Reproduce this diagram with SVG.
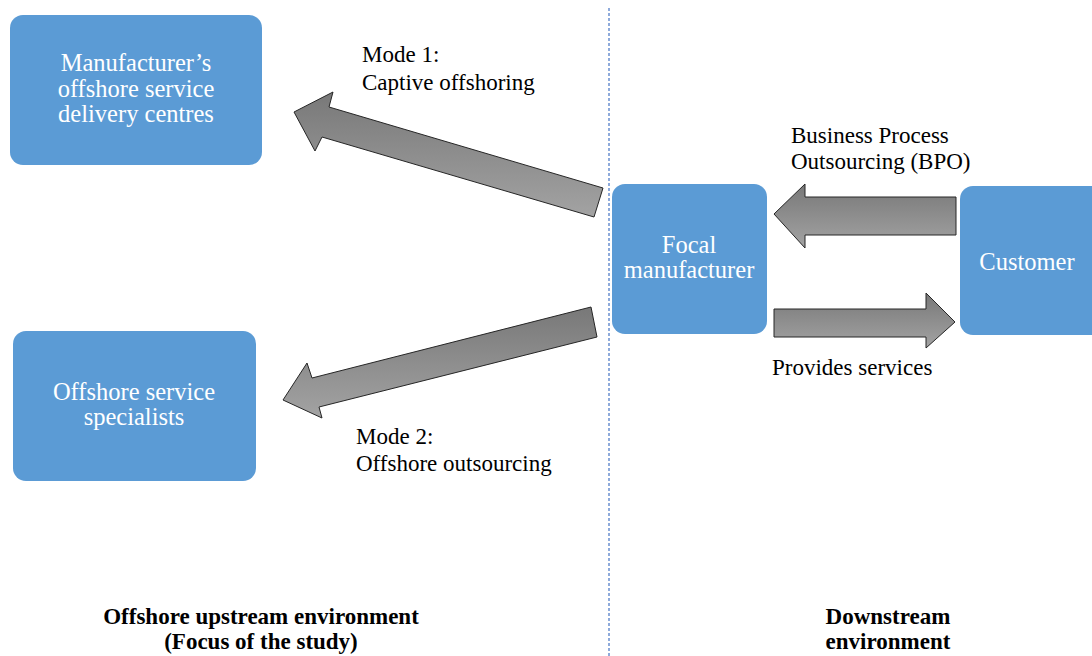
<svg xmlns="http://www.w3.org/2000/svg" width="1092" height="656" viewBox="0 0 1092 656">
<defs>
<linearGradient id="g" x1="0" y1="0" x2="0" y2="1">
<stop offset="0" stop-color="#787878"/>
<stop offset="1" stop-color="#a3a3a3"/>
</linearGradient>
<style>
.box{fill:#5b9bd5;}
.arr{fill:url(#g);stroke:#262626;stroke-width:1;stroke-linejoin:miter;}
.div{stroke:#4472c4;stroke-width:1.2;stroke-dasharray:3 2;fill:none;}
</style>
</defs>
<rect width="1092" height="656" fill="#ffffff"/>
<line class="div" x1="609" y1="8" x2="609" y2="656"/>
<g id="connectors">
<polygon class="arr" points="294,112 333,92 329,107 603,188 594,217 322,137 315,151"/>
<polygon class="arr" points="283,400 307,363 312,378 591,307 597,337 319,407 322,418"/>
<polygon class="arr" points="774,214 805,184 805,197 956,197 956,235 805,235 805,248"/>
<polygon class="arr" points="774,309 926,309 926,293 955,322 926,348 926,337 774,337"/>
</g>
<g id="node-manufacturer-centres">
<rect class="box" x="10" y="15" width="252" height="150" rx="13"/>
<text font-family="Liberation Serif" font-size="24.5" fill="#ffffff" text-anchor="middle" x="136" y="71">Manufacturer’s</text>
<text font-family="Liberation Serif" font-size="24.5" fill="#ffffff" text-anchor="middle" x="136" y="97">offshore service</text>
<text font-family="Liberation Serif" font-size="24.5" fill="#ffffff" text-anchor="middle" x="136" y="122">delivery centres</text>
</g>
<g id="node-specialists">
<rect class="box" x="13" y="331" width="243" height="150" rx="13"/>
<text font-family="Liberation Serif" font-size="24.5" fill="#ffffff" text-anchor="middle" x="134" y="400">Offshore service</text>
<text font-family="Liberation Serif" font-size="24.5" fill="#ffffff" text-anchor="middle" x="134" y="425">specialists</text>
</g>
<g id="node-focal">
<rect class="box" x="612" y="184" width="155" height="150" rx="13"/>
<text font-family="Liberation Serif" font-size="24.5" fill="#ffffff" text-anchor="middle" x="689" y="253">Focal</text>
<text font-family="Liberation Serif" font-size="24.5" fill="#ffffff" text-anchor="middle" x="689" y="278">manufacturer</text>
</g>
<g id="node-customer">
<rect class="box" x="960" y="186" width="150" height="149" rx="13"/>
<text font-family="Liberation Serif" font-size="24.5" fill="#ffffff" text-anchor="middle" x="1027" y="270">Customer</text>
</g>
<g id="labels">
<text font-family="Liberation Serif" font-size="23" fill="#000000" x="362" y="62">Mode 1:</text>
<text font-family="Liberation Serif" font-size="23" fill="#000000" x="362" y="90">Captive offshoring</text>
<text font-family="Liberation Serif" font-size="23" fill="#000000" x="791" y="143">Business Process</text>
<text font-family="Liberation Serif" font-size="23" fill="#000000" x="791" y="169">Outsourcing (BPO)</text>
<text font-family="Liberation Serif" font-size="23" fill="#000000" x="772" y="375">Provides services</text>
<text font-family="Liberation Serif" font-size="23" fill="#000000" x="356" y="444">Mode 2:</text>
<text font-family="Liberation Serif" font-size="23" fill="#000000" x="356" y="471">Offshore outsourcing</text>
<text font-family="Liberation Serif" font-size="23" font-weight="bold" fill="#000000" text-anchor="middle" x="261" y="624">Offshore upstream environment</text>
<text font-family="Liberation Serif" font-size="23" font-weight="bold" fill="#000000" text-anchor="middle" x="261" y="649">(Focus of the study)</text>
<text font-family="Liberation Serif" font-size="23" font-weight="bold" fill="#000000" text-anchor="middle" x="888" y="624">Downstream</text>
<text font-family="Liberation Serif" font-size="23" font-weight="bold" fill="#000000" text-anchor="middle" x="888" y="649">environment</text>
</g>
</svg>
